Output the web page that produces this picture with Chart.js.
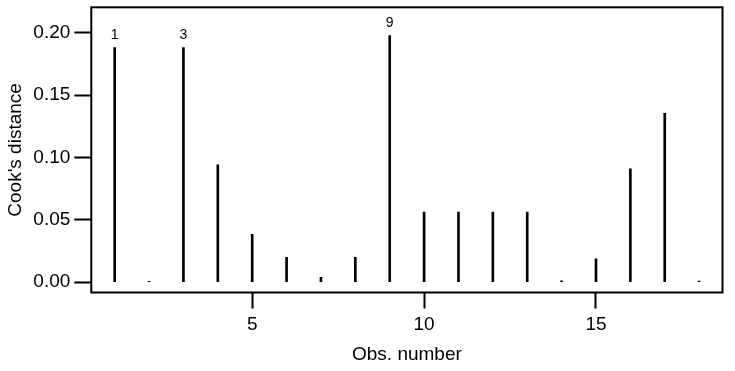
<!DOCTYPE html>
<html>
<head>
<meta charset="utf-8">
<script src="https://cdn.jsdelivr.net/npm/chart.js@4.4.1/dist/chart.umd.min.js"></script>
<style>
  body { margin: 0; background: #fff; }
  canvas { display: block; }
</style>
</head>
<body>
<canvas id="myChart" width="735" height="371"></canvas>
<script>
// observation numbers and their Cook's distances
var obs = [1, 2, 3, 4, 5, 6, 7, 8, 9, 10, 11, 12, 13, 14, 15, 16, 17, 18];
var cooks = [0.188, 0.0008, 0.188, 0.094, 0.0385, 0.020, 0.004, 0.020, 0.1976,
             0.0563, 0.0563, 0.0563, 0.0563, 0.0012, 0.0187, 0.0908, 0.1354, 0.0010];
var labelled = [1, 3, 9];
var xTicks = [5, 10, 15];
var yTicks = [0, 0.05, 0.10, 0.15, 0.20];

var fontFam = "'Liberation Sans', Arial, sans-serif";
Chart.defaults.color = '#000';
Chart.defaults.font.family = fontFam;
Chart.defaults.font.size = 19;

var points = [];
for (var i = 0; i < obs.length; i++) {
  points.push({x: obs[i], y: cooks[i]});
}

// box round the plot region
var boxPlugin = {
  id: 'box',
  afterDraw: function(chart) {
    var a = chart.chartArea;
    var ctx = chart.ctx;
    ctx.save();
    ctx.strokeStyle = '#000';
    ctx.lineWidth = 2;
    ctx.strokeRect(a.left, a.top, a.right - a.left, a.bottom - a.top);
    ctx.restore();
  }
};

// numbers over the largest ones
var labelPlugin = {
  id: 'obslabels',
  afterDatasetsDraw: function(chart) {
    var meta = chart.getDatasetMeta(0);
    var ctx = chart.ctx;
    ctx.save();
    ctx.font = '14px ' + fontFam;
    ctx.fillStyle = '#000';
    ctx.textAlign = 'center';
    ctx.textBaseline = 'middle';
    for (var i = 0; i < obs.length; i++) {
      if (labelled.indexOf(obs[i]) >= 0) {
        var el = meta.data[i];
        ctx.fillText(String(obs[i]), el.x, el.y - 12.5);
      }
    }
    ctx.restore();
  }
};

var ctx = document.getElementById('myChart').getContext('2d');
var chart = new Chart(ctx, {
  type: 'bar',
  data: {
    datasets: [{
      data: points,
      backgroundColor: '#000',
      borderWidth: 0,
      barThickness: 2
    }]
  },
  plugins: [boxPlugin, labelPlugin],
  options: {
    responsive: false,
    animation: false,
    events: [],
    layout: { padding: { top: 7.3, right: 12.5, left: 0, bottom: 0 } },
    plugins: { legend: { display: false }, tooltip: { enabled: false } },
    scales: {
      x: {
        type: 'linear',
        min: 0.32,
        max: 18.68,
        offset: false,
        afterBuildTicks: function(s) { s.ticks = xTicks.map(function(v) { return {value: v}; }); },
        afterFit: function(s) { s.height = 78.5; s.paddingLeft = 0; s.paddingRight = 0; },
        grid: { offset: false, drawOnChartArea: false, drawTicks: true, tickLength: 16, tickWidth: 2, tickColor: '#000' },
        border: { display: false },
        ticks: { padding: 5, maxRotation: 0, autoSkip: false, callback: function(v) { return String(v); } },
        title: { display: true, text: 'Obs. number', padding: { top: 4, bottom: 4.5 } }
      },
      y: {
        min: -0.0082,
        max: 0.2203,
        afterBuildTicks: function(s) { s.ticks = yTicks.map(function(v) { return {value: v}; }); },
        afterFit: function(s) { s.width = 91.3; s.paddingTop = 0; s.paddingBottom = 0; },
        grid: { drawOnChartArea: false, drawTicks: true, tickLength: 17, tickWidth: 2, tickColor: '#000' },
        border: { display: false },
        ticks: { padding: 4, callback: function(v) { return Number(v).toFixed(2); } },
        title: { display: true, text: "Cook's distance", padding: { top: 4.5, bottom: 4 } }
      }
    }
  }
});
</script>
</body>
</html>
